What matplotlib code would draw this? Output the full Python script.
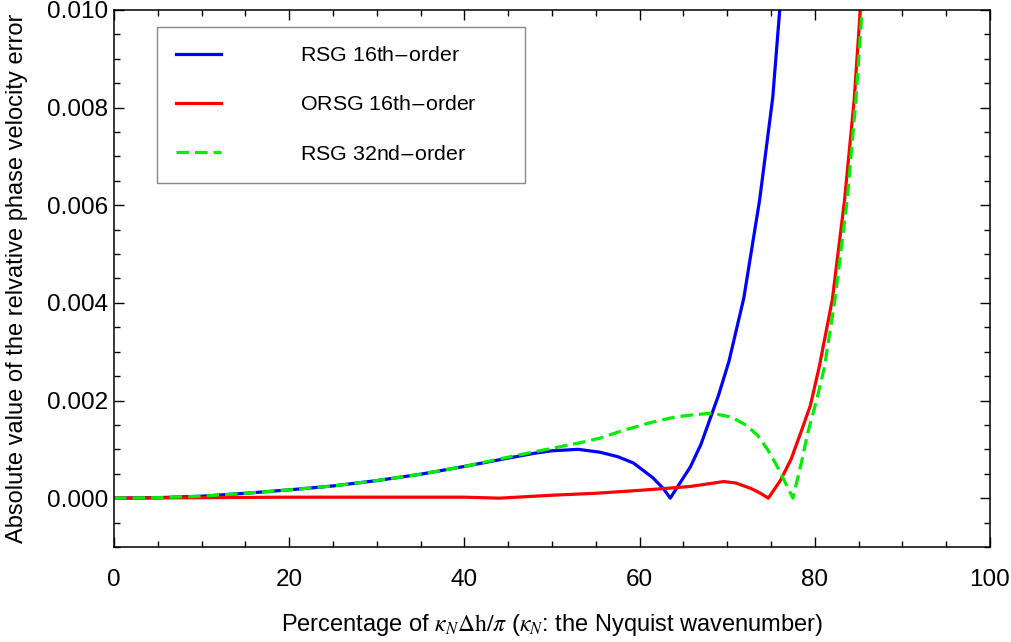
import numpy as np
import matplotlib
matplotlib.use("Agg")
import matplotlib.pyplot as plt
from matplotlib.ticker import MultipleLocator

plt.rcParams['font.family'] = ['Liberation Sans', 'DejaVu Sans']
plt.rcParams['mathtext.fontset'] = 'stix'

# RSG 16th-order (blue)
x_rsg16 = [0, 5, 10, 15, 20, 25, 30, 35, 40, 45, 48, 50, 53, 55.5, 57.5, 59.3,
           61.5, 62.7, 63.5, 64.5, 65.8, 67.0, 68.0, 69.0, 70.2, 71.9, 73.7,
           75.2, 76.0]
y_rsg16 = [0, 0.00001, 0.00004, 0.0001, 0.00017, 0.00025, 0.00036, 0.00049,
           0.00065, 0.00082, 0.00092, 0.00097, 0.00100, 0.00094, 0.00085,
           0.00072, 0.00042, 0.0002, 0.0, 0.00028, 0.00064, 0.00110, 0.00160,
           0.0021, 0.0028, 0.0041, 0.0061, 0.0082, 0.0100]

# ORSG 16th-order (red)
x_orsg16 = [0, 10, 20, 30, 40, 44, 47, 50, 55, 60, 63, 65.8, 69.6, 71.0, 72.7,
            73.8, 74.7, 76.1, 77.3, 78.4, 79.5, 80.5, 82.0, 83.4, 84.5, 85.2]
y_orsg16 = [0, 0.00001, 0.00002, 0.00002, 0.00002, 0.0, 0.00003, 0.00006,
            0.0001, 0.00016, 0.0002, 0.00024, 0.00034, 0.00031, 0.0002,
            0.0001, 0.0, 0.00037, 0.0008, 0.00134, 0.0019, 0.00268, 0.00406,
            0.0061, 0.00816, 0.0100]

# RSG 32nd-order (green, dashed)
x_rsg32 = [0, 5, 10, 15, 20, 25, 30, 35, 40, 45, 48, 50, 53.6, 55.5, 58, 61.3,
           64, 65.8, 68.2, 70.5, 72.3, 73.5, 74.6, 75.5, 76.3, 77.5, 78.5,
           79.2, 80.2, 81.1, 82.3, 83.7, 84.7, 85.4]
y_rsg32 = [0, 0.00001, 0.00004, 0.0001, 0.00017, 0.00025, 0.00036, 0.00049,
           0.00065, 0.00084, 0.00095, 0.00102, 0.00115, 0.00123, 0.00138,
           0.00155, 0.00166, 0.0017, 0.00174, 0.00166, 0.00148, 0.00128,
           0.00100, 0.00072, 0.00044, 0.0, 0.00075, 0.00134, 0.0020,
           0.00268, 0.00406, 0.0061, 0.00816, 0.0100]

fig = plt.figure(figsize=(10.12, 6.42), dpi=100)
ax = fig.add_axes([0.1127, 0.148, 0.8655, 0.8366])

ax.plot(x_rsg16, y_rsg16, color='#0000ff', lw=2.3, label='RSG 16th$-$order')
ax.plot(x_orsg16, y_orsg16, color='#ff0000', lw=2.3, label='ORSG 16th$-$order')
ax.plot(x_rsg32, y_rsg32, color='#00ee00', lw=2.3, dashes=(3.9, 1.9),
        label='RSG 32nd$-$order')

ax.set_xlim(0, 100)
ax.set_ylim(-0.001, 0.010)
ax.xaxis.set_major_locator(MultipleLocator(20))
ax.xaxis.set_minor_locator(MultipleLocator(5))
ax.yaxis.set_major_locator(MultipleLocator(0.002))
ax.yaxis.set_minor_locator(MultipleLocator(0.0005))
ax.yaxis.set_major_formatter(plt.FuncFormatter(lambda v, p: f'{v:.3f}'))
ax.tick_params(which='both', direction='in', top=True, right=True,
               labelsize=17.5, width=1.0)
ax.tick_params(which='major', length=7)
ax.tick_params(which='minor', length=4)
ax.tick_params(axis='x', which='major', pad=16)
ax.tick_params(axis='y', which='major', pad=4)
for s in ax.spines.values():
    s.set_linewidth(1.1)

ax.set_xlabel(r'Percentage of $\kappa_N\Delta\mathrm{h}/\pi$ ($\kappa_N$: the Nyquist wavenumber)',
              fontsize=17)
ax.set_ylabel('Absolute value of the relvative phase velocity error', fontsize=17)
ax.xaxis.set_label_coords(0.5, -0.121)
ax.yaxis.set_label_coords(-0.098, 0.5)

# legend box stretched to the width used in the original figure
leg = ax.legend(loc='upper left', bbox_to_anchor=(0.049, 0.676, 0.42, 0.292),
                mode='expand', fontsize=15.4,
                handlelength=2.1, handletextpad=3.7, labelspacing=1.41,
                borderpad=0.9, borderaxespad=0, fancybox=False, framealpha=1)
leg.get_frame().set_edgecolor('#888888')
leg.get_frame().set_linewidth(1.0)

fig.savefig('out.png', dpi=100)
